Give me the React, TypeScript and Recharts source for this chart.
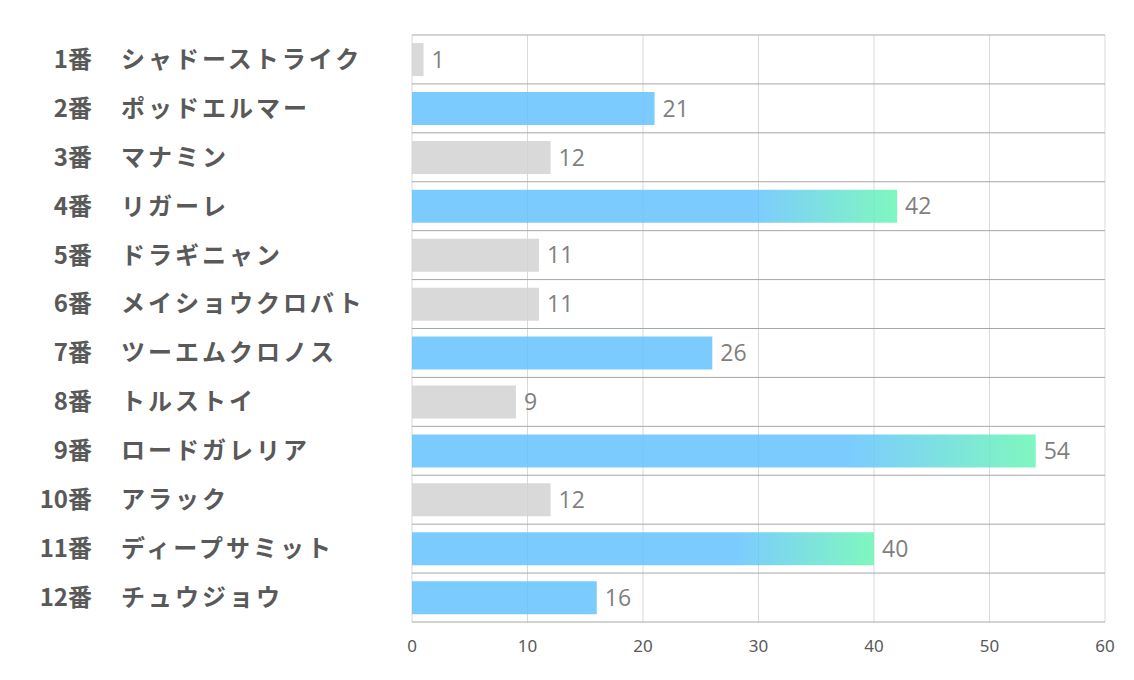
import { BarChart, Bar, XAxis, YAxis, CartesianGrid, Cell, LabelList } from "recharts";

// 馬番と馬名（上から順）
const gateNumbers = ["1番", "2番", "3番", "4番", "5番", "6番", "7番", "8番", "9番", "10番", "11番", "12番"];
const horseNames = [
  "シャドーストライク",
  "ポッドエルマー",
  "マナミン",
  "リガーレ",
  "ドラギニャン",
  "メイショウクロバト",
  "ツーエムクロノス",
  "トルストイ",
  "ロードガレリア",
  "アラック",
  "ディープサミット",
  "チュウジョウ",
];
const scores = [1, 21, 12, 42, 11, 11, 26, 9, 54, 12, 40, 16];
// gray = 通常, blue = 注目, grad = 上位
const tones = ["gray", "blue", "gray", "grad", "gray", "gray", "blue", "gray", "grad", "gray", "grad", "blue"];
const xTicks = [0, 10, 20, 30, 40, 50, 60];

const toneFill: Record<string, string> = {
  gray: "#d2d2d2",
  blue: "#65c2ff",
  grad: "url(#topGrad)",
};

const data = horseNames.map((name, i) => ({
  key: String(i),
  name,
  gate: gateNumbers[i],
  score: scores[i],
  tone: tones[i],
}));

// 区切り線はカテゴリ帯の境目（帯は描画領域を等分）
const rowBorders = ({ offset }: any) => {
  const step = offset.height / data.length;
  const lines: number[] = [];
  for (let i = 0; i <= data.length; i++) lines.push(offset.top + i * step);
  return lines;
};

const HorseTick = (props: any) => {
  const { y, payload } = props;
  const i = Number(payload.value);
  return (
    <g>
      <text
        x={92}
        y={y}
        dy="0.35em"
        textAnchor="end"
        fill="#595959"
        fontSize={24}
        fontWeight={700}
        fontFamily="'Noto Sans CJK JP', 'Noto Sans', sans-serif"
      >
        {gateNumbers[i]}
      </text>
      <text
        x={121}
        y={y}
        dy="0.35em"
        textAnchor="start"
        fill="#595959"
        fontSize={24}
        fontWeight={700}
        letterSpacing={3}
        fontFamily="'Noto Sans CJK JP', sans-serif"
      >
        {horseNames[i]}
      </text>
    </g>
  );
};

export default function App() {
  return (
    <div style={{ position: "absolute", left: 0, top: 0, width: 1134, height: 680, background: "#fff" }}>
      <BarChart
        width={1134}
        height={680}
        data={data}
        layout="vertical"
        margin={{ top: 35, right: 29, bottom: 28, left: 0 }}
        barCategoryGap="16.5%"
      >
        <defs>
          <linearGradient id="topGrad" x1="0" y1="0" x2="1" y2="0">
            <stop offset="0" stopColor="#65c2ff" />
            <stop offset="0.7" stopColor="#65c2ff" />
            <stop offset="1" stopColor="#68f6b4" />
          </linearGradient>
        </defs>
        <CartesianGrid horizontal={false} stroke="#d9d9d9" />
        <CartesianGrid vertical={false} stroke="#a6a6a6" horizontalCoordinatesGenerator={rowBorders} />
        <XAxis
          type="number"
          domain={[0, 60]}
          ticks={xTicks}
          axisLine={false}
          tickLine={false}
          tickMargin={12}
          tick={{ fill: "#595959", fontSize: 17, fontFamily: "'Liberation Sans Narrow', 'Noto Sans', sans-serif" }}
        />
        <YAxis
          type="category"
          dataKey="key"
          width={412}
          axisLine={false}
          tickLine={false}
          tick={<HorseTick />}
          interval={0}
        />
        <Bar dataKey="score" isAnimationActive={false} fillOpacity={0.85}>
          {data.map((d) => (
            <Cell key={d.key} fill={toneFill[d.tone]} />
          ))}
          <LabelList
            dataKey="score"
            position="right"
            offset={8}
            fill="#7f7f7f"
            fontSize={23}
            fontFamily="'Open Sans', 'Noto Sans', sans-serif"
          />
        </Bar>
      </BarChart>
    </div>
  );
}
